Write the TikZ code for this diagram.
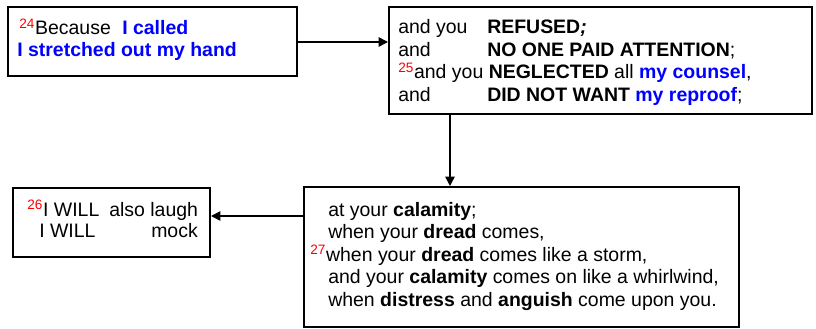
\documentclass[tikz,border=0pt]{standalone}
\usepackage{fontspec}
\setmainfont{Liberation Sans}
\usetikzlibrary{arrows.meta}
\definecolor{vblue}{RGB}{0,0,255}
\definecolor{vred}{RGB}{255,0,0}
\newcommand{\vn}[1]{\textcolor{vred}{\textsuperscript{#1}}}
\newcommand{\bl}[1]{\textcolor{vblue}{\textbf{#1}}}
\begin{document}
\begin{tikzpicture}[x=0.75pt,y=-0.75pt,
  box/.style={draw=black,line width=1.5pt,inner sep=0pt},
  txt/.style={anchor=base west,inner sep=0pt,font=\fontsize{14.6}{17}\selectfont},
  conn/.style={line width=1.1pt,-{Triangle[length=7pt,width=7pt]}}]
\useasboundingbox (0,0) rectangle (816,328);
% boxes
\node[box,minimum width=289*0.75pt,minimum height=69*0.75pt,anchor=north west] (b1) at (7,6) {};
\node[box,minimum width=423*0.75pt,minimum height=107*0.75pt,anchor=north west] (b2) at (388,6) {};
\node[box,minimum width=197*0.75pt,minimum height=69*0.75pt,anchor=north west] (b3) at (12,187) {};
\node[box,minimum width=435*0.75pt,minimum height=140*0.75pt,anchor=north west] (b4) at (303,186) {};
% box 1
\node[txt] (t1a) at (19,35) {\vn{24}Because};
\node[txt] (t1b) at (122,35) {\bl{I called}};
\node[txt] (t1c) at (17,57) {\bl{I stretched out my hand}};
% box 2
\node[txt] (t2a) at (398,34) {and you};
\node[txt] (t2b) at (487,34) {\textbf{REFUSED\textit{;}}};
\node[txt] (t2c) at (398,56.5) {and};
\node[txt] (t2d) at (487,56.5) {\textbf{NO ONE PAID ATTENTION};};
\node[txt] (t2e) at (398,79) {\vn{25}and you \textbf{NEGLECTED} all \bl{my counsel},};
\node[txt] (t2f) at (398,101) {and};
\node[txt] (t2g) at (487,101) {\textbf{DID NOT WANT} \bl{my reproof};};
% box 3
\node[txt] (t3a) at (27,216) {\vn{26}I WILL};
\node[txt] (t3b) at (109,216) {also laugh};
\node[txt] (t3c) at (39,237) {I WILL};
\node[txt] (t3d) at (151,237) {mock};
% box 4
\node[txt] (t4a) at (328,216) {at your \textbf{calamity};};
\node[txt] (t4b) at (328,238) {when your \textbf{dread} comes,};
\node[txt] (t4c) at (310,261) {\vn{27}when your \textbf{dread} comes like a storm,};
\node[txt] (t4d) at (328,283) {and your \textbf{calamity} comes on like a whirlwind,};
\node[txt] (t4e) at (328,306) {when \textbf{distress} and \textbf{anguish} come upon you.};
% connectors
\draw[conn] (b1.east |- 0,42) -- (b2.west |- 0,42);
\draw[conn] (b2.south -| 450,0) -- (b4.north -| 450,0);
\draw[conn] (b4.west |- 0,216) -- (b3.east |- 0,216);
\end{tikzpicture}
\end{document}
